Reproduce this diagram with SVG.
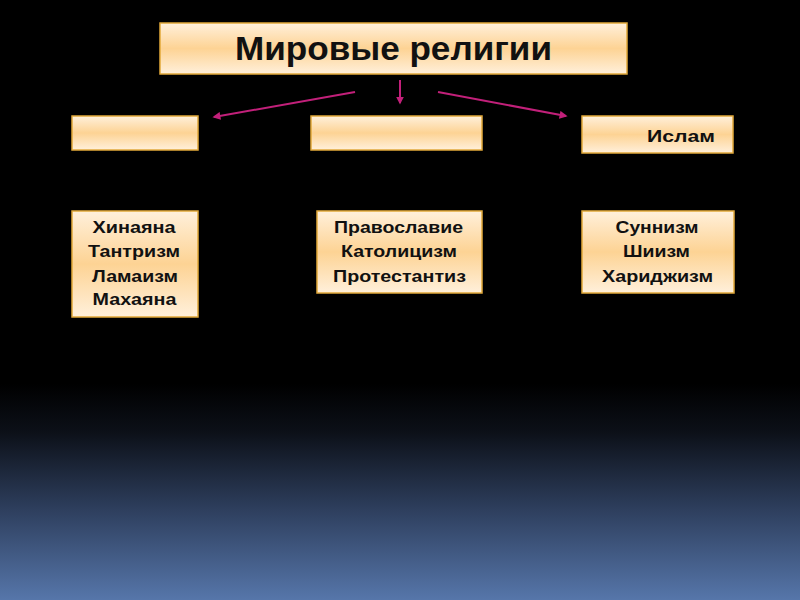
<svg xmlns="http://www.w3.org/2000/svg" width="800" height="600" viewBox="0 0 800 600">
<defs>
<linearGradient id="bg" x1="0" y1="0" x2="0" y2="1">
<stop offset="0" stop-color="#000000"/>
<stop offset="0.64" stop-color="#000000"/>
<stop offset="0.72" stop-color="#0c1018"/>
<stop offset="0.85" stop-color="#2e3f5e"/>
<stop offset="1" stop-color="#5676aa"/>
</linearGradient>
<linearGradient id="box" x1="0" y1="0" x2="0" y2="1">
<stop offset="0" stop-color="#fff0db"/>
<stop offset="0.5" stop-color="#fdd394"/>
<stop offset="1" stop-color="#fff0db"/>
</linearGradient>
<marker id="ah" viewBox="0 0 10 10" refX="8" refY="5" markerWidth="4" markerHeight="4" orient="auto">
<path d="M0,0 L10,5 L0,10 z" fill="#c2207a"/>
</marker>
</defs>
<style>
.b{fill:url(#box);stroke:#e2a93a;stroke-width:1.5}
.t{font-family:"Liberation Sans",Arial,sans-serif;font-weight:bold;fill:#111;text-anchor:middle}
.s{font-size:16.5px}
.c{stroke:#c2207a;stroke-width:2;fill:none;marker-end:url(#ah)}
</style>
<rect width="800" height="600" fill="url(#bg)"/>
<g id="connectors">
<line class="c" x1="355" y1="92" x2="214" y2="117"/>
<line class="c" x1="400" y1="80" x2="400" y2="103"/>
<line class="c" x1="438" y1="92" x2="566" y2="116"/>
</g>
<g id="title">
<rect class="b" x="160" y="23" width="467" height="51"/>
<text class="t" x="393.5" y="60" font-size="33" textLength="317" lengthAdjust="spacingAndGlyphs">Мировые религии</text>
</g>
<g id="box-buddhism">
<rect class="b" x="72" y="116" width="126" height="34"/>
</g>
<g id="box-christianity">
<rect class="b" x="311" y="116" width="171" height="34"/>
</g>
<g id="box-islam">
<rect class="b" x="582" y="116" width="151" height="37"/>
<text class="t s" x="681" y="142" textLength="68" lengthAdjust="spacingAndGlyphs">Ислам</text>
</g>
<g id="list-buddhism">
<rect class="b" x="72" y="211" width="126" height="106"/>
<text class="t s" x="134" y="233" textLength="83" lengthAdjust="spacingAndGlyphs">Хинаяна</text>
<text class="t s" x="134" y="257" textLength="92" lengthAdjust="spacingAndGlyphs">Тантризм</text>
<text class="t s" x="135" y="282" textLength="86" lengthAdjust="spacingAndGlyphs">Ламаизм</text>
<text class="t s" x="134.5" y="305" textLength="84" lengthAdjust="spacingAndGlyphs">Махаяна</text>
</g>
<g id="list-christianity">
<rect class="b" x="317" y="211" width="165" height="82"/>
<text class="t s" x="398.5" y="233" textLength="129" lengthAdjust="spacingAndGlyphs">Православие</text>
<text class="t s" x="399" y="257" textLength="116" lengthAdjust="spacingAndGlyphs">Католицизм</text>
<text class="t s" x="399.5" y="282" textLength="133" lengthAdjust="spacingAndGlyphs">Протестантиз</text>
</g>
<g id="list-islam">
<rect class="b" x="582" y="211" width="152" height="82"/>
<text class="t s" x="657" y="233" textLength="83" lengthAdjust="spacingAndGlyphs">Суннизм</text>
<text class="t s" x="656.5" y="257" textLength="67" lengthAdjust="spacingAndGlyphs">Шиизм</text>
<text class="t s" x="657.5" y="282" textLength="111" lengthAdjust="spacingAndGlyphs">Хариджизм</text>
</g>
</svg>
